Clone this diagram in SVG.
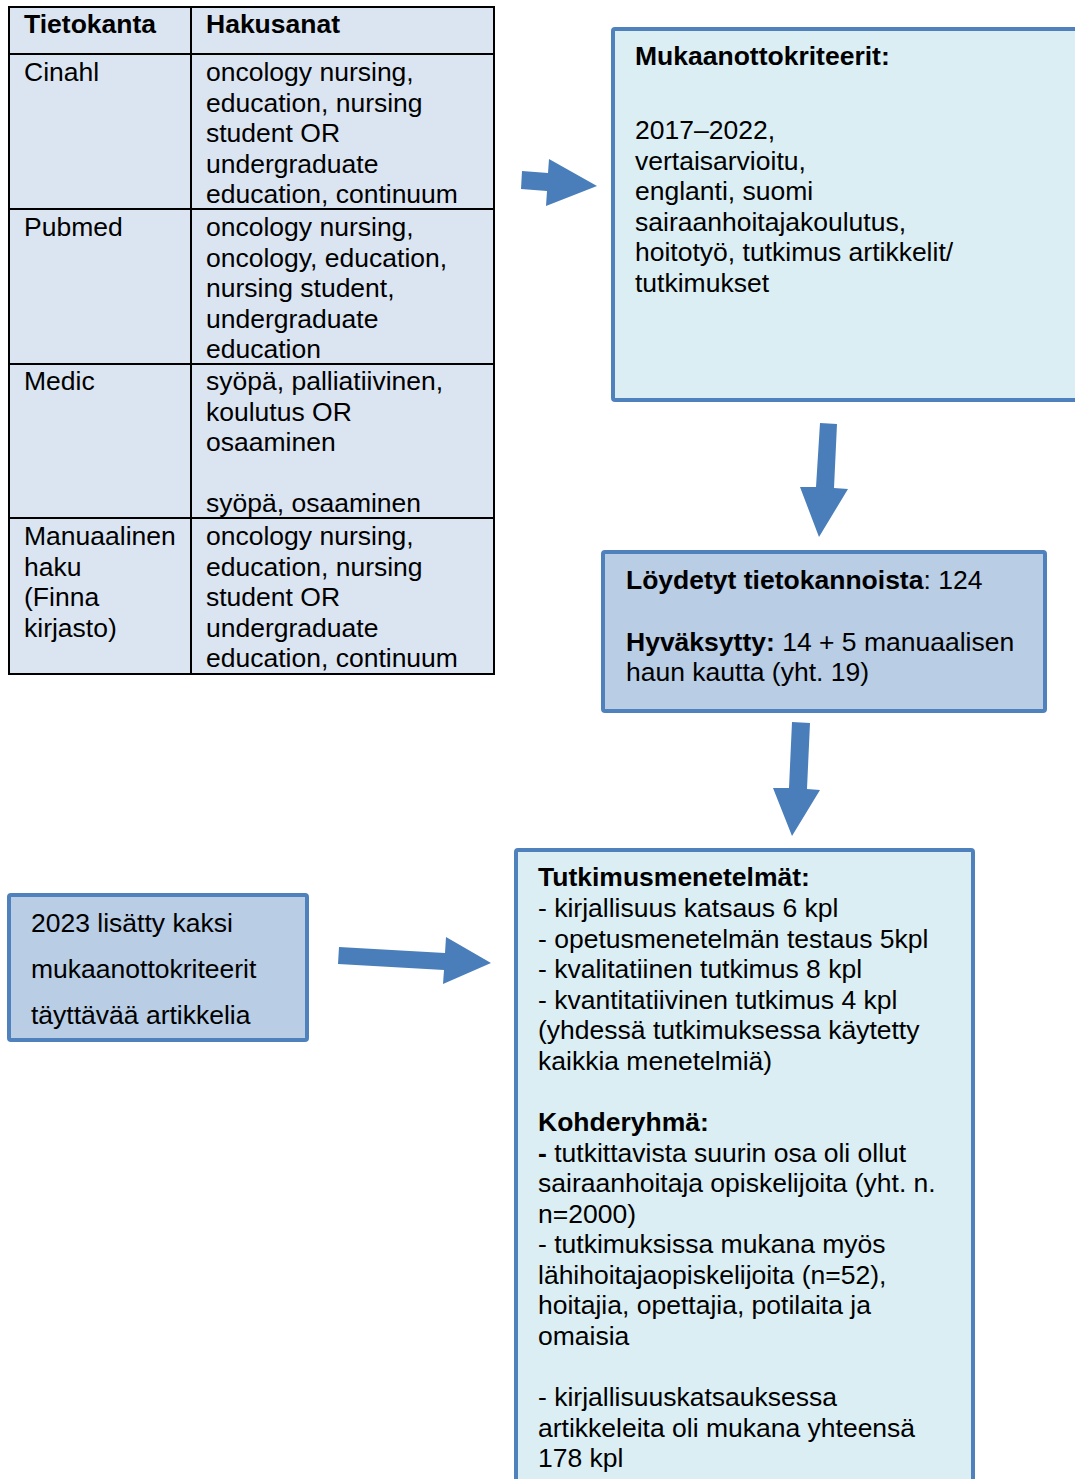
<svg xmlns="http://www.w3.org/2000/svg" width="1075" height="1479" viewBox="0 0 1075 1479">
<style>
text{font-family:"Liberation Sans",Arial,sans-serif;font-size:26.5px;fill:#000}
.b{font-weight:bold}
.tl{stroke:#000;stroke-width:2;fill:none}
.boxL{fill:#DBEEF4;stroke:#4F81BD;stroke-width:4}
.boxD{fill:#B9CDE5;stroke:#4F81BD;stroke-width:4}
.arr{fill:#4A7EBB}
</style>
<g id="table">
<rect x="9" y="7" width="485" height="667" fill="#DBE5F1"/>
<rect x="9" y="7" width="485" height="667" class="tl"/>
<line x1="191" y1="7" x2="191" y2="674" class="tl"/>
<line x1="9" y1="54" x2="494" y2="54" class="tl"/>
<line x1="9" y1="209" x2="494" y2="209" class="tl"/>
<line x1="9" y1="364" x2="494" y2="364" class="tl"/>
<line x1="9" y1="518" x2="494" y2="518" class="tl"/>
<text x="24" y="33" class="b">Tietokanta</text>
<text x="206" y="33" class="b">Hakusanat</text>
<text x="24" y="81">Cinahl</text>
<text x="206" y="81">oncology nursing,</text>
<text x="206" y="111.5">education, nursing</text>
<text x="206" y="142">student OR</text>
<text x="206" y="172.5">undergraduate</text>
<text x="206" y="203">education, continuum</text>
<text x="24" y="236">Pubmed</text>
<text x="206" y="236">oncology nursing,</text>
<text x="206" y="266.5">oncology, education,</text>
<text x="206" y="297">nursing student,</text>
<text x="206" y="327.5">undergraduate</text>
<text x="206" y="358">education</text>
<text x="24" y="390">Medic</text>
<text x="206" y="390">syöpä, palliatiivinen,</text>
<text x="206" y="420.5">koulutus OR</text>
<text x="206" y="451">osaaminen</text>
<text x="206" y="512">syöpä, osaaminen</text>
<text x="24" y="545">Manuaalinen</text>
<text x="24" y="575.5">haku</text>
<text x="24" y="606">(Finna</text>
<text x="24" y="636.5">kirjasto)</text>
<text x="206" y="545">oncology nursing,</text>
<text x="206" y="575.5">education, nursing</text>
<text x="206" y="606">student OR</text>
<text x="206" y="636.5">undergraduate</text>
<text x="206" y="667">education, continuum</text>
</g>
<g id="criteria">
<rect x="613" y="29" width="480" height="371" rx="2" class="boxL"/>
<text x="635" y="65" class="b">Mukaanottokriteerit:</text>
<text x="635" y="139">2017–2022,</text>
<text x="635" y="169.5">vertaisarvioitu,</text>
<text x="635" y="200">englanti, suomi</text>
<text x="635" y="230.5">sairaanhoitajakoulutus,</text>
<text x="635" y="261">hoitotyö, tutkimus artikkelit/</text>
<text x="635" y="291.5">tutkimukset</text>
</g>
<g id="found">
<rect x="603" y="552" width="442" height="159" rx="2" class="boxD"/>
<text x="626" y="589"><tspan class="b">Löydetyt tietokannoista</tspan>: 124</text>
<text x="626" y="651"><tspan class="b">Hyväksytty:</tspan> 14 + 5 manuaalisen</text>
<text x="626" y="681">haun kautta (yht. 19)</text>
</g>
<g id="added">
<rect x="9" y="895" width="298" height="145" rx="2" class="boxD"/>
<text x="31" y="932">2023 lisätty kaksi</text>
<text x="31" y="978">mukaanottokriteerit</text>
<text x="31" y="1024">täyttävää artikkelia</text>
</g>
<g id="methods">
<rect x="516" y="850" width="457" height="660" rx="2" class="boxL"/>
<text x="538" y="886" class="b">Tutkimusmenetelmät:</text>
<text x="538" y="917">- kirjallisuus katsaus 6 kpl</text>
<text x="538" y="947.5">- opetusmenetelmän testaus 5kpl</text>
<text x="538" y="978">- kvalitatiinen tutkimus 8 kpl</text>
<text x="538" y="1008.5">- kvantitatiivinen tutkimus 4 kpl</text>
<text x="538" y="1039">(yhdessä tutkimuksessa käytetty</text>
<text x="538" y="1069.5">kaikkia menetelmiä)</text>
<text x="538" y="1131" class="b">Kohderyhmä:</text>
<text x="538" y="1161.5"><tspan class="b">-</tspan> tutkittavista suurin osa oli ollut</text>
<text x="538" y="1192">sairaanhoitaja opiskelijoita (yht. n.</text>
<text x="538" y="1222.5">n=2000)</text>
<text x="538" y="1253">- tutkimuksissa mukana myös</text>
<text x="538" y="1283.5">lähihoitajaopiskelijoita (n=52),</text>
<text x="538" y="1314">hoitajia, opettajia, potilaita ja</text>
<text x="538" y="1344.5">omaisia</text>
<text x="538" y="1406">- kirjallisuuskatsauksessa</text>
<text x="538" y="1436.5">artikkeleita oli mukana yhteensä</text>
<text x="538" y="1467">178 kpl</text>
</g>
<g id="connectors">
<polygon class="arr" points="522,171 548,173 549,159 597,186 546,206 547,191 521,189"/>
<polygon class="arr" points="820,423 837,424 834,488 848,489 819,537 800,487 816,487"/>
<polygon class="arr" points="792,722 810,723 807,789 820,790 792,836 773,788 789,788"/>
<polygon class="arr" points="339,947 445,953 446,937 491,963 443,984 444,970 338,964"/>
</g>
</svg>
